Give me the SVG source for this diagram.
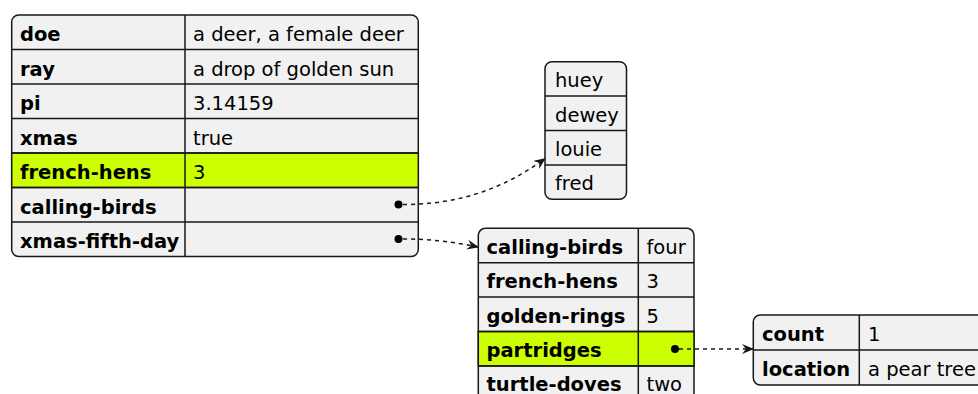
<svg xmlns="http://www.w3.org/2000/svg" width="978" height="394" viewBox="0 0 978 394">
<defs>
<style>
.tbl{fill:#F1F1F1;stroke:#181818;stroke-width:1.5}
.hl{fill:#CCFF00;stroke:#181818;stroke-width:1.5}
.ln{stroke:#181818;stroke-width:1.5;fill:none}
.k{font-family:"DejaVu Sans",sans-serif;font-weight:bold;font-size:19.5px;fill:#000}
.v{font-family:"DejaVu Sans",sans-serif;font-size:19.5px;fill:#000}
.dot{fill:#000}
.edge{stroke:#181818;stroke-width:1.5;fill:none;stroke-dasharray:4 4}
</style>
<marker id="arr" viewBox="0 0 12 10" refX="11" refY="5" markerWidth="12" markerHeight="10" markerUnits="userSpaceOnUse" orient="auto">
<path d="M0,0 L12,5 L0,10 L4,5 Z" fill="#181818"/>
</marker>
</defs>
<rect width="978" height="394" fill="#FFFFFF"/>

<g id="root">
<rect class="tbl" x="11.7" y="15" width="406.6" height="241.5" rx="7"/>
<rect class="hl" x="11.7" y="153" width="406.6" height="34.5"/>
<path class="ln" d="M11.7,49.5H418.3M11.7,84H418.3M11.7,118.5H418.3M11.7,153H418.3M11.7,187.5H418.3M11.7,222H418.3M185,15V256.5"/>
<text class="k" x="20" y="41">doe</text>
<text class="v" x="193" y="41">a deer, a female deer</text>
<text class="k" x="20" y="75.5">ray</text>
<text class="v" x="193" y="75.5">a drop of golden sun</text>
<text class="k" x="20" y="110">pi</text>
<text class="v" x="193" y="110">3.14159</text>
<text class="k" x="20" y="144.5">xmas</text>
<text class="v" x="193" y="144.5">true</text>
<text class="k" x="20" y="179">french-hens</text>
<text class="v" x="193" y="179">3</text>
<text class="k" x="20" y="213.5">calling-birds</text>
<circle class="dot" cx="398.5" cy="204.5" r="4"/>
<text class="k" x="20" y="248">xmas-fifth-day</text>
<circle class="dot" cx="398.5" cy="239" r="4"/>
</g>

<g id="calling-birds-list">
<rect class="tbl" x="545" y="61.7" width="81.5" height="137.6" rx="7"/>
<path class="ln" d="M545,96.1H626.5M545,130.5H626.5M545,164.9H626.5"/>
<text class="v" x="555" y="87.2">huey</text>
<text class="v" x="555" y="121.6">dewey</text>
<text class="v" x="555" y="156">louie</text>
<text class="v" x="555" y="190.4">fred</text>
</g>

<g id="xmas-fifth-day">
<rect class="tbl" x="478.3" y="228.3" width="215.7" height="172" rx="7"/>
<rect class="hl" x="478.3" y="331.5" width="215.7" height="34.4"/>
<path class="ln" d="M478.3,262.7H694M478.3,297.1H694M478.3,331.5H694M478.3,365.9H694M638.3,228.3V400.3"/>
<text class="k" x="486.5" y="253.8">calling-birds</text>
<text class="v" x="646.5" y="253.8">four</text>
<text class="k" x="486.5" y="288.2">french-hens</text>
<text class="v" x="646.5" y="288.2">3</text>
<text class="k" x="486.5" y="322.6">golden-rings</text>
<text class="v" x="646.5" y="322.6">5</text>
<text class="k" x="486.5" y="357">partridges</text>
<circle class="dot" cx="675" cy="349" r="4"/>
<text class="k" x="486.5" y="391.4">turtle-doves</text>
<text class="v" x="646.5" y="391.4">two</text>
</g>

<g id="partridges">
<rect class="tbl" x="753.3" y="315" width="240" height="70" rx="7"/>
<path class="ln" d="M753.3,350H993.3M859.3,315V385"/>
<text class="k" x="762" y="341">count</text>
<text class="v" x="868" y="341">1</text>
<text class="k" x="762" y="376">location</text>
<text class="v" x="868" y="376">a pear tree</text>
</g>

<g id="connectors">
<path class="edge" d="M403,204.5 C460,204.5 505,188 545,158.5" marker-end="url(#arr)"/>
<path class="edge" d="M403,239 C430,239 455,242 478,247" marker-end="url(#arr)"/>
<path class="edge" d="M679,349 L753,349" marker-end="url(#arr)"/>
</g>
</svg>
